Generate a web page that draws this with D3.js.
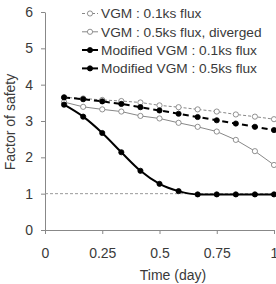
<!DOCTYPE html>
<html>
<head>
<meta charset="utf-8">
<script src="https://cdn.jsdelivr.net/npm/d3@7"></script>
<style>
  body { margin: 0; background: #fff; }
  text { font-family: "Liberation Sans", Arial, sans-serif; fill: #3a3a3a; font-weight: normal; }
</style>
</head>
<body>
<svg id="chart"></svg>
<script>
// data
let days = [1/12, 2/12, 3/12, 4/12, 5/12, 6/12, 7/12, 8/12, 9/12, 10/12, 11/12, 1]
let vgm01 = [3.65, 3.62, 3.58, 3.55, 3.51, 3.43, 3.38, 3.32, 3.26, 3.18, 3.12, 3.05]
let vgm05 = [3.52, 3.39, 3.32, 3.26, 3.14, 3.07, 2.95, 2.84, 2.71, 2.48, 2.17, 1.79]
let mod01 = [3.65, 3.60, 3.54, 3.47, 3.38, 3.29, 3.20, 3.11, 3.02, 2.93, 2.84, 2.75]
let mod05 = [3.45, 3.12, 2.67, 2.14, 1.63, 1.27, 1.07, 0.98, 0.98, 0.98, 0.98, 0.98]
let legendLabels = ['VGM : 0.1ks flux', 'VGM : 0.5ks flux, diverged', 'Modified VGM : 0.1ks flux', 'Modified VGM : 0.5ks flux']
let xTicks = [0, 0.25, 0.5, 0.75, 1]
let yTicks = [0, 1, 2, 3, 4, 5, 6]

let width = 276
let height = 284
let padLeft = 45, padRight = 274, padTop = 12, padBottom = 230

let svg = d3.select('#chart').attr('width', width).attr('height', height)

let xScale = d3.scaleLinear().domain([0, 1]).range([padLeft, padRight])
let yScale = d3.scaleLinear().domain([0, 6]).range([padBottom, padTop])

// styles for the four series
let series = [
  {values: vgm01, stroke: '#888', width: 1, dash: '3,2', open: true, curve: d3.curveLinear},
  {values: vgm05, stroke: '#888', width: 1, dash: null, open: true, curve: d3.curveLinear},
  {values: mod01, stroke: '#000', width: 2, dash: '6,4', open: false, curve: d3.curveLinear},
  {values: mod05, stroke: '#000', width: 2, dash: null, open: false, curve: d3.curveMonotoneX}
]

// axes
let xAxis = d3.axisBottom(xScale).tickValues(xTicks).tickSize(4).tickPadding(14)
  .tickSizeOuter(0).tickFormat(d => String(d))
let yAxis = d3.axisLeft(yScale).tickValues(yTicks).tickSize(4).tickPadding(8)
  .tickSizeOuter(0).tickFormat(d => String(d))

let gx = svg.append('g').attr('transform', 'translate(0,' + padBottom + ')').call(xAxis)
let gy = svg.append('g').attr('transform', 'translate(' + padLeft + ',0)').call(yAxis)
for (let g of [gx, gy]) {
  g.attr('font-family', null).attr('font-size', null)
  g.select('.domain').attr('stroke', '#888')
  g.selectAll('.tick line').attr('stroke', '#888')
  g.selectAll('.tick text').style('font-size', '14px').attr('fill', '#3a3a3a')
}

// reference line at safety factor 1
svg.append('line')
  .attr('x1', xScale(0)).attr('x2', xScale(1))
  .attr('y1', yScale(1)).attr('y2', yScale(1))
  .attr('stroke', '#999').attr('stroke-dasharray', '3,2')

// lines and markers
series.forEach(s => {
  let line = d3.line().x((d, i) => xScale(days[i])).y(d => yScale(d)).curve(s.curve)
  svg.append('path')
    .attr('d', line(s.values))
    .attr('fill', 'none')
    .attr('stroke', s.stroke)
    .attr('stroke-width', s.width)
    .attr('stroke-dasharray', s.dash)
})
series.forEach(s => {
  svg.append('g').selectAll('circle')
    .data(s.values)
    .enter()
    .append('circle')
    .attr('cx', (d, i) => xScale(days[i]))
    .attr('cy', d => yScale(d))
    .attr('r', 2.6)
    .attr('fill', s.open ? '#fff' : '#000')
    .attr('stroke', s.open ? '#777' : '#000')
    .attr('stroke-width', 0.8)
})

// legend
let legend = svg.append('g')
legendLabels.forEach((label, i) => {
  let s = series[i]
  let y = 13.5 + i * 18.3
  legend.append('line')
    .attr('x1', 82).attr('x2', 98).attr('y1', y).attr('y2', y)
    .attr('stroke', s.stroke).attr('stroke-width', s.width)
    .attr('stroke-dasharray', s.dash)
  legend.append('circle')
    .attr('cx', 90).attr('cy', y).attr('r', 2.6)
    .attr('fill', s.open ? '#fff' : '#000')
    .attr('stroke', s.open ? '#777' : '#000')
    .attr('stroke-width', 0.8)
  legend.append('text')
    .attr('x', 101).attr('y', y).attr('dy', '0.35em')
    .style('font-size', '13.7px')
    .text(label)
})

// axis titles
svg.append('text')
  .attr('x', 173).attr('y', 275).attr('dy', '0.35em')
  .attr('text-anchor', 'middle').style('font-size', '14px')
  .text('Time (day)')
svg.append('text')
  .attr('transform', 'translate(10,122) rotate(-90)')
  .attr('dy', '0.35em')
  .attr('text-anchor', 'middle').style('font-size', '14px')
  .text('Factor of safety')
</script>
</body>
</html>
